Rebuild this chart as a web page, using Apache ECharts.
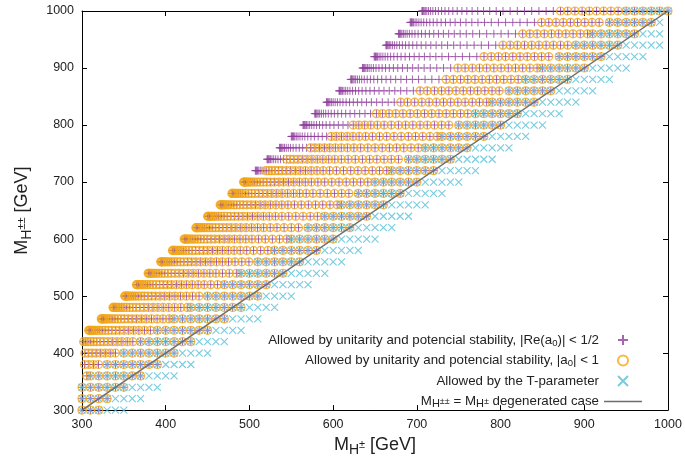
<!DOCTYPE html>
<html><head><meta charset="utf-8">
<script src="https://cdn.jsdelivr.net/npm/echarts@6/dist/echarts.min.js"></script>
<style>html,body{margin:0;padding:0;background:#fff}#c{width:685px;height:462px}</style>
</head><body><div id="c"></div>
<script>
// ---- data ----
// scanned M_H±± values (one horizontal row of points each)
const rowMassHpp = [300,320,340,360,380,400,420,440,460,480,500,520,540,560,580,600,620,640,660,680,700,720,740,760,780,800,820,840,860,880,900,920,940,960,980,1000];
// left edge of the |Re(a0)|<1/2 region in each row (M_H±)
const halfUnitFrom = [209,223,237,252,266,280,294,308,323,337,351,365,379,394,408,422,436,450,465,479,493,507,521,536,550,564,578,592,607,621,635,649,663,678,692,706];
// left edge of the |a0|<1 region in each row
const oneUnitFrom = [209,223,237,252,266,280,294,308,323,337,351,365,379,394,408,422,436,450,465,479,493,518,544,570,596,622,648,674,700,728,745,773,800,820,845,867];
// right edge of both unitarity regions
const unitTo = [320,330,350,370,390,410,430,450,470,490,510,520,540,560,580,600,620,640,660,680,700,720,740,760,780,800,820,840,860,880,900,920,940,960,980,1000];
// T-parameter allowed range in each row
const tParamFrom = [300,300,300,310,330,350,370,390,410,430,450,470,490,510,530,550,570,590,610,630,650,670,690,710,730,750,770,790,810,830,850,870,890,910,930,950];
const tParamTo = [350,370,390,410,430,450,470,490,510,530,550,570,590,610,630,650,670,690,710,730,750,770,790,810,830,850,870,890,910,930,950,970,990,990,990,1000];
// spacing of the unitarity scan points measured from a row's left edge (GeV)
const scanOffsets = [0,0.8,1.6,2.7,4.1,5.9,8,10.4,13.1,16.2,19.7,23.5,27.6,32.1,37,42.2,47.8,53.7,60,66.7,73.7,81,88.8,96.9,105.4];
const scanStep = 8.6;   // later unitarity scan spacing
const gridStep = 10;    // T-parameter grid spacing
const diagonal = [300, 1000];
const axisMin = 300, axisMax = 1000, axisStep = 100;

const names = [
  'Allowed by unitarity and potencial stability, |Re(a0)| < 1/2',
  'Allowed by unitarity and potencial stability, |a0| < 1',
  'Allowed by the T-parameter',
  'M_H±± = M_H± degenerated case'
];
const legendRich = [
  '{t|Allowed by unitarity and potencial stability, |Re(a}{s|0}{t|)| < 1/2}',
  '{t|Allowed by unitarity and potencial stability, |a}{s|0}{t|| < 1}',
  '{t|Allowed by the T-parameter}',
  '{t|M}{h|H}{p|±±}{t| = M}{h|H}{p|±}{t| degenerated case}'
];

// ---- build the point lists ----
const halfPts = [], onePts = [], tPts = [];
rowMassHpp.forEach((y, i) => {
  const xs = [];
  const L = halfUnitFrom[i];
  let x;
  for (const d of scanOffsets) { x = L + d; if (x >= tParamFrom[i] - 4) break; xs.push(x); }
  for (x = L + scanOffsets[scanOffsets.length - 1] + scanStep; x < tParamFrom[i] - 4; x += scanStep) xs.push(x);
  for (x = tParamFrom[i]; x <= unitTo[i] + 0.01; x += gridStep) xs.push(x);
  xs.forEach(v => {
    if (v >= axisMin && v <= axisMax) {
      halfPts.push([v, y]);
      if (v >= oneUnitFrom[i] - 0.5) onePts.push([v, y]);
    }
  });
  for (x = tParamFrom[i]; x <= tParamTo[i] + 0.01; x += gridStep) tPts.push([x, y]);
});

const FONT = 'Liberation Sans';
const PURPLE = '#8e3f9b', ORANGE = '#f4a815', CYAN = '#56bfd6', GRAY = '#6e6e6e';
const plusSym = 'path://M0,5L10,5M5,0L5,10';
const crossSym = 'path://M0,0L10,10M0,10L10,0';

function axisBase(pos, showLabel) {
  return {
    type: 'value', min: axisMin, max: axisMax, interval: axisStep, position: pos,
    axisLine: { show: true, onZero: false, lineStyle: { color: '#000', width: 1 } },
    axisTick: { show: true, inside: true, length: 5, lineStyle: { color: '#000', width: 1 } },
    axisLabel: { show: showLabel, fontSize: 12.5, color: '#222', fontFamily: FONT, margin: 8,
                 formatter: v => String(v) },
    splitLine: { show: false }
  };
}
const nameRich = {
  m: { fontSize: 18, fontFamily: FONT, color: '#222', lineHeight: 24 },
  sub: { fontSize: 14, fontFamily: FONT, color: '#222', lineHeight: 8, verticalAlign: 'bottom' },
  sup: { fontSize: 11, fontFamily: FONT, color: '#222', lineHeight: 12, verticalAlign: 'middle' }
};

const xBottom = Object.assign(axisBase('bottom', true), {
  name: '{m|M}{sub|H}{sup|±}{m| [GeV]}', nameLocation: 'middle', nameGap: 21,
  nameTextStyle: { rich: nameRich }
});
const yLeft = Object.assign(axisBase('left', true), {
  name: '{m|M}{sub|H}{sup|±±}{m| [GeV]}', nameLocation: 'middle', nameGap: 48, nameRotate: 90,
  nameTextStyle: { rich: nameRich }
});

const chart = echarts.init(document.getElementById('c'), null, { renderer: 'canvas' });
chart.setOption({
  animation: false,
  backgroundColor: '#fff',
  grid: { left: 82, right: 17, top: 11, bottom: 46, containLabel: false },
  xAxis: [xBottom, axisBase('top', false)],
  yAxis: [yLeft, axisBase('right', false)],
  legend: {
    orient: 'vertical', align: 'right', right: 38, top: 327, itemGap: 4.5,
    itemWidth: 38, itemHeight: 10, selectedMode: false, symbolKeepAspect: true,
    data: [
      { name: names[0] }, { name: names[1] }, { name: names[2] },
      { name: names[3], icon: 'path://M0,0L38,0L38,1.5L0,1.5Z', itemStyle: { color: GRAY, borderWidth: 0 } }
    ],
    formatter: n => legendRich[names.indexOf(n)],
    textStyle: {
      fontSize: 13.3, fontFamily: FONT, color: '#222', lineHeight: 16,
      rich: {
        t: { fontSize: 13.3, fontFamily: FONT, color: '#222', lineHeight: 16 },
        s: { fontSize: 9.5, fontFamily: FONT, color: '#222', lineHeight: 6, verticalAlign: 'bottom' },
        h: { fontSize: 11, fontFamily: FONT, color: '#222', lineHeight: 6, verticalAlign: 'bottom' },
        p: { fontSize: 9, fontFamily: FONT, color: '#222', lineHeight: 12, verticalAlign: 'middle' }
      }
    }
  },
  series: [
    { name: names[0], type: 'scatter', data: halfPts, symbol: plusSym, symbolSize: 8, symbolKeepAspect: true,
      large: false, progressive: 0, silent: true,
      itemStyle: { color: 'transparent', borderColor: PURPLE, borderWidth: 1 } },
    { name: names[1], type: 'scatter', data: onePts, symbol: 'circle', symbolSize: 8, symbolKeepAspect: true,
      large: false, progressive: 0, silent: true,
      itemStyle: { color: 'transparent', borderColor: ORANGE, borderWidth: 1.2 } },
    { name: names[2], type: 'scatter', data: tPts, symbol: crossSym, symbolSize: 7, symbolKeepAspect: true,
      large: false, progressive: 0, silent: true,
      itemStyle: { color: 'transparent', borderColor: CYAN, borderWidth: 1.1 } },
    { name: names[3], type: 'line', data: diagonal.map(v => [v, v]), symbol: 'none', showSymbol: false,
      silent: true, lineStyle: { color: GRAY, width: 1.5 }, itemStyle: { color: GRAY } }
  ]
});
</script></body></html>
